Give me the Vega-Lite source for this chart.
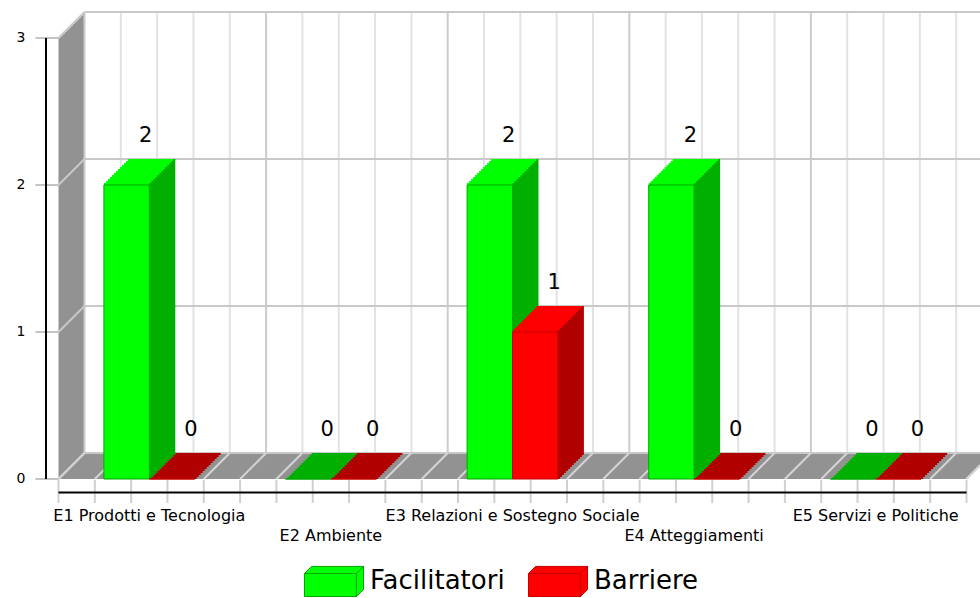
{
"$schema": "https://vega.github.io/schema/vega-lite/v6.json",
"width": 908, "height": 441,
"autosize": {"type": "none"},
"padding": {"left": 58.5, "top": 38, "right": 13.5, "bottom": 119},
"background": "white",
"config": {"view": {"stroke": null}, "font": "DejaVu Sans"},
"datasets": {
"bars": [
{"cat": "E1 Prodotti e Tecnologia", "s": "Facilitatori", "v": 2},
{"cat": "E1 Prodotti e Tecnologia", "s": "Barriere", "v": 0},
{"cat": "E2 Ambiente", "s": "Facilitatori", "v": 0},
{"cat": "E2 Ambiente", "s": "Barriere", "v": 0},
{"cat": "E3 Relazioni e Sostegno Sociale", "s": "Facilitatori", "v": 2},
{"cat": "E3 Relazioni e Sostegno Sociale", "s": "Barriere", "v": 1},
{"cat": "E4 Atteggiamenti", "s": "Facilitatori", "v": 2},
{"cat": "E4 Atteggiamenti", "s": "Barriere", "v": 0},
{"cat": "E5 Servizi e Politiche", "s": "Facilitatori", "v": 0},
{"cat": "E5 Servizi e Politiche", "s": "Barriere", "v": 0}
],
"xt": [{"t":0},{"t":1},{"t":2},{"t":3},{"t":4},{"t":5},{"t":6},{"t":7},{"t":8},{"t":9},{"t":10},{"t":11},{"t":12},{"t":13},{"t":14},{"t":15},{"t":16},{"t":17},{"t":18},{"t":19},{"t":20},{"t":21},{"t":22},{"t":23},{"t":24},{"t":25}],
"yt": [{"v":0},{"v":1},{"v":2},{"v":3}],
"one": [{"n":1}]
},
"resolve": {"scale": {"x": "independent"}},
"layer": [
{"layer": [
{"data":{"name":"one"},"mark":{"type":"rect","fill":"#929292","xOffset":0,"x2Offset":0,"yOffset":0,"y2Offset":0},"encoding":{"x":{"datum":0,"type":"quantitative","scale":{"domain":[0,25],"nice":false},"axis":null},"x2":{"datum":25},"y":{"datum":0,"type":"quantitative","scale":{"domain":[0,3],"nice":false},"axis":null},"y2":{"datum":3}}},
{"data":{"name":"one"},"mark":{"type":"rect","fill":"#929292","xOffset":2,"x2Offset":2,"yOffset":-2,"y2Offset":-2},"encoding":{"x":{"datum":0,"type":"quantitative","scale":{"domain":[0,25],"nice":false},"axis":null},"x2":{"datum":25},"y":{"datum":0,"type":"quantitative","scale":{"domain":[0,3],"nice":false},"axis":null},"y2":{"datum":3}}},
{"data":{"name":"one"},"mark":{"type":"rect","fill":"#929292","xOffset":4,"x2Offset":4,"yOffset":-4,"y2Offset":-4},"encoding":{"x":{"datum":0,"type":"quantitative","scale":{"domain":[0,25],"nice":false},"axis":null},"x2":{"datum":25},"y":{"datum":0,"type":"quantitative","scale":{"domain":[0,3],"nice":false},"axis":null},"y2":{"datum":3}}},
{"data":{"name":"one"},"mark":{"type":"rect","fill":"#929292","xOffset":6,"x2Offset":6,"yOffset":-6,"y2Offset":-6},"encoding":{"x":{"datum":0,"type":"quantitative","scale":{"domain":[0,25],"nice":false},"axis":null},"x2":{"datum":25},"y":{"datum":0,"type":"quantitative","scale":{"domain":[0,3],"nice":false},"axis":null},"y2":{"datum":3}}},
{"data":{"name":"one"},"mark":{"type":"rect","fill":"#929292","xOffset":8,"x2Offset":8,"yOffset":-8,"y2Offset":-8},"encoding":{"x":{"datum":0,"type":"quantitative","scale":{"domain":[0,25],"nice":false},"axis":null},"x2":{"datum":25},"y":{"datum":0,"type":"quantitative","scale":{"domain":[0,3],"nice":false},"axis":null},"y2":{"datum":3}}},
{"data":{"name":"one"},"mark":{"type":"rect","fill":"#929292","xOffset":10,"x2Offset":10,"yOffset":-10,"y2Offset":-10},"encoding":{"x":{"datum":0,"type":"quantitative","scale":{"domain":[0,25],"nice":false},"axis":null},"x2":{"datum":25},"y":{"datum":0,"type":"quantitative","scale":{"domain":[0,3],"nice":false},"axis":null},"y2":{"datum":3}}},
{"data":{"name":"one"},"mark":{"type":"rect","fill":"#929292","xOffset":12,"x2Offset":12,"yOffset":-12,"y2Offset":-12},"encoding":{"x":{"datum":0,"type":"quantitative","scale":{"domain":[0,25],"nice":false},"axis":null},"x2":{"datum":25},"y":{"datum":0,"type":"quantitative","scale":{"domain":[0,3],"nice":false},"axis":null},"y2":{"datum":3}}},
{"data":{"name":"one"},"mark":{"type":"rect","fill":"#929292","xOffset":14,"x2Offset":14,"yOffset":-14,"y2Offset":-14},"encoding":{"x":{"datum":0,"type":"quantitative","scale":{"domain":[0,25],"nice":false},"axis":null},"x2":{"datum":25},"y":{"datum":0,"type":"quantitative","scale":{"domain":[0,3],"nice":false},"axis":null},"y2":{"datum":3}}},
{"data":{"name":"one"},"mark":{"type":"rect","fill":"#929292","xOffset":16,"x2Offset":16,"yOffset":-16,"y2Offset":-16},"encoding":{"x":{"datum":0,"type":"quantitative","scale":{"domain":[0,25],"nice":false},"axis":null},"x2":{"datum":25},"y":{"datum":0,"type":"quantitative","scale":{"domain":[0,3],"nice":false},"axis":null},"y2":{"datum":3}}},
{"data":{"name":"one"},"mark":{"type":"rect","fill":"#929292","xOffset":18,"x2Offset":18,"yOffset":-18,"y2Offset":-18},"encoding":{"x":{"datum":0,"type":"quantitative","scale":{"domain":[0,25],"nice":false},"axis":null},"x2":{"datum":25},"y":{"datum":0,"type":"quantitative","scale":{"domain":[0,3],"nice":false},"axis":null},"y2":{"datum":3}}},
{"data":{"name":"one"},"mark":{"type":"rect","fill":"#929292","xOffset":20,"x2Offset":20,"yOffset":-20,"y2Offset":-20},"encoding":{"x":{"datum":0,"type":"quantitative","scale":{"domain":[0,25],"nice":false},"axis":null},"x2":{"datum":25},"y":{"datum":0,"type":"quantitative","scale":{"domain":[0,3],"nice":false},"axis":null},"y2":{"datum":3}}},
{"data":{"name":"one"},"mark":{"type":"rect","fill":"#929292","xOffset":22,"x2Offset":22,"yOffset":-22,"y2Offset":-22},"encoding":{"x":{"datum":0,"type":"quantitative","scale":{"domain":[0,25],"nice":false},"axis":null},"x2":{"datum":25},"y":{"datum":0,"type":"quantitative","scale":{"domain":[0,3],"nice":false},"axis":null},"y2":{"datum":3}}},
{"data":{"name":"one"},"mark":{"type":"rect","fill":"#929292","xOffset":24,"x2Offset":24,"yOffset":-24,"y2Offset":-24},"encoding":{"x":{"datum":0,"type":"quantitative","scale":{"domain":[0,25],"nice":false},"axis":null},"x2":{"datum":25},"y":{"datum":0,"type":"quantitative","scale":{"domain":[0,3],"nice":false},"axis":null},"y2":{"datum":3}}},
{"data":{"name":"one"},"mark":{"type":"rect","fill":"#929292","xOffset":26,"x2Offset":26,"yOffset":-26,"y2Offset":-26},"encoding":{"x":{"datum":0,"type":"quantitative","scale":{"domain":[0,25],"nice":false},"axis":null},"x2":{"datum":25},"y":{"datum":0,"type":"quantitative","scale":{"domain":[0,3],"nice":false},"axis":null},"y2":{"datum":3}}},
{"data":{"name":"one"},"mark":{"type":"rect","fill":"#ffffff","xOffset":26,"x2Offset":40,"yOffset":-26,"y2Offset":-26},"encoding":{"x":{"datum":0,"type":"quantitative","scale":{"domain":[0,25],"nice":false},"axis":null},"x2":{"datum":25},"y":{"datum":0,"type":"quantitative","scale":{"domain":[0,3],"nice":false},"axis":null},"y2":{"datum":3}}},
{"data":{"name":"xt"},"mark":{"type":"rule","strokeWidth":2,"xOffset":26,"yOffset":-26,"y2Offset":-26},"encoding":{"x":{"field":"t","type":"quantitative","scale":{"domain":[0,25],"nice":false},"axis":null},"y":{"datum":0,"type":"quantitative","scale":{"domain":[0,3],"nice":false},"axis":null},"y2":{"datum":3},"stroke":{"condition":{"test":"datum.t % 5 === 0","value":"#cccccc"},"value":"#e2e2e2"}}},
{"data":{"name":"yt"},"mark":{"type":"rule","stroke":"#c8c8c8","strokeWidth":2,"xOffset":26,"x2Offset":40,"yOffset":-26},"encoding":{"x":{"datum":0,"type":"quantitative","scale":{"domain":[0,25],"nice":false},"axis":null},"x2":{"datum":25},"y":{"field":"v","type":"quantitative","scale":{"domain":[0,3],"nice":false},"axis":null}}},
{"data":{"name":"yt"},"mark":{"type":"rule","stroke":"#c8c8c8","strokeWidth":2,"x2Offset":26,"y2Offset":-26},"encoding":{"x":{"datum":0,"type":"quantitative","scale":{"domain":[0,25],"nice":false},"axis":null},"x2":{"datum":0},"y":{"field":"v","type":"quantitative","scale":{"domain":[0,3],"nice":false},"axis":null},"y2":{"field":"v"}}},
{"data":{"name":"xt"},"mark":{"type":"rule","stroke":"#d4d4d4","strokeWidth":2,"x2Offset":26,"y2Offset":-26},"encoding":{"x":{"field":"t","type":"quantitative","scale":{"domain":[0,25],"nice":false},"axis":null},"x2":{"field":"t"},"y":{"datum":0,"type":"quantitative","scale":{"domain":[0,3],"nice":false},"axis":null},"y2":{"datum":0}}},
{"data":{"name":"xt"},"mark":{"type":"rule","stroke":"#d0d0d0","strokeWidth":2,"yOffset":1,"y2Offset":24},"encoding":{"x":{"field":"t","type":"quantitative","scale":{"domain":[0,25],"nice":false},"axis":null},"y":{"datum":0,"type":"quantitative","scale":{"domain":[0,3],"nice":false},"axis":null},"y2":{"datum":0}}},
{"data":{"name":"one"},"mark":{"type":"rule","stroke":"#000000","strokeWidth":2,"yOffset":13.5},"encoding":{"x":{"datum":0,"type":"quantitative","scale":{"domain":[0,25],"nice":false},"axis":null},"x2":{"datum":25},"y":{"datum":0,"type":"quantitative","scale":{"domain":[0,3],"nice":false},"axis":null}}},
{"data":{"name":"yt"},"mark":{"type":"rule","stroke":"#c4c4c4","strokeWidth":2,"xOffset":-23},"encoding":{"x":{"datum":0,"type":"quantitative","scale":{"domain":[0,25],"nice":false},"axis":null},"x2":{"datum":0},"y":{"field":"v","type":"quantitative","scale":{"domain":[0,3],"nice":false},"axis":null}}},
{"data":{"name":"one"},"mark":{"type":"rule","stroke":"#000000","strokeWidth":2,"xOffset":-12.5},"encoding":{"x":{"datum":0,"type":"quantitative","scale":{"domain":[0,25],"nice":false},"axis":null},"y":{"datum":0,"type":"quantitative","scale":{"domain":[0,3],"nice":false},"axis":null},"y2":{"datum":3}}},
{"data":{"name":"yt"},"mark":{"type":"text","dx":-33,"align":"right","baseline":"middle","fontSize":14,"font":"DejaVu Sans","color":"#000000"},"encoding":{"x":{"datum":0,"type":"quantitative","scale":{"domain":[0,25],"nice":false},"axis":null},"y":{"field":"v","type":"quantitative","scale":{"domain":[0,3],"nice":false},"axis":null},"text":{"field":"v","type":"quantitative"}}}
]},
{"data":{"name":"bars"},
"transform":[{"calculate":"datum.cat + '|' + datum.s","as":"k"}],
"encoding":{"x":{"field":"k","type":"nominal","scale":{"domain":["E1 Prodotti e Tecnologia|L","E1 Prodotti e Tecnologia|Facilitatori","E1 Prodotti e Tecnologia|Barriere","E1 Prodotti e Tecnologia|R","E2 Ambiente|L","E2 Ambiente|Facilitatori","E2 Ambiente|Barriere","E2 Ambiente|R","E3 Relazioni e Sostegno Sociale|L","E3 Relazioni e Sostegno Sociale|Facilitatori","E3 Relazioni e Sostegno Sociale|Barriere","E3 Relazioni e Sostegno Sociale|R","E4 Atteggiamenti|L","E4 Atteggiamenti|Facilitatori","E4 Atteggiamenti|Barriere","E4 Atteggiamenti|R","E5 Servizi e Politiche|L","E5 Servizi e Politiche|Facilitatori","E5 Servizi e Politiche|Barriere","E5 Servizi e Politiche|R"],"paddingInner":0,"paddingOuter":0},"axis":{"values":["E1 Prodotti e Tecnologia|Barriere","E2 Ambiente|Barriere","E3 Relazioni e Sostegno Sociale|Barriere","E4 Atteggiamenti|Barriere","E5 Servizi e Politiche|Barriere"],"labelOffset":-22.7,"title":null,"domain":false,"ticks":false,"tickSize":0,"grid":false,"labelPadding":28.5,"labelFontSize":16,"labelColor":"#000000","labelFont":"DejaVu Sans","labelOverlap":false,"labelLimit":0,"labelBaseline":"top","labelLineHeight":20,"labelAngle":0,"labelExpr":"(indexof(datum.label, 'E2') === 0 || indexof(datum.label, 'E4') === 0) ? ['', split(datum.label, '|')[0]] : split(datum.label, '|')[0]"}}},
"layer":[
{"mark":{"type":"bar","xOffset":26,"yOffset":-26,"y2Offset":-24},"encoding":{"y":{"field":"v","type":"quantitative","scale":{"domain":[0,3],"nice":false},"axis":null},"y2":{"datum":0},"fill":{"condition":{"test":"datum.s === 'Facilitatori'","value":"#00b000"},"value":"#b00000"}}},
{"mark":{"type":"bar","xOffset":24,"yOffset":-24,"y2Offset":-22},"encoding":{"y":{"field":"v","type":"quantitative","scale":{"domain":[0,3],"nice":false},"axis":null},"y2":{"datum":0},"fill":{"condition":{"test":"datum.s === 'Facilitatori'","value":"#00b000"},"value":"#b00000"}}},
{"mark":{"type":"bar","xOffset":22,"yOffset":-22,"y2Offset":-20},"encoding":{"y":{"field":"v","type":"quantitative","scale":{"domain":[0,3],"nice":false},"axis":null},"y2":{"datum":0},"fill":{"condition":{"test":"datum.s === 'Facilitatori'","value":"#00b000"},"value":"#b00000"}}},
{"mark":{"type":"bar","xOffset":20,"yOffset":-20,"y2Offset":-18},"encoding":{"y":{"field":"v","type":"quantitative","scale":{"domain":[0,3],"nice":false},"axis":null},"y2":{"datum":0},"fill":{"condition":{"test":"datum.s === 'Facilitatori'","value":"#00b000"},"value":"#b00000"}}},
{"mark":{"type":"bar","xOffset":18,"yOffset":-18,"y2Offset":-16},"encoding":{"y":{"field":"v","type":"quantitative","scale":{"domain":[0,3],"nice":false},"axis":null},"y2":{"datum":0},"fill":{"condition":{"test":"datum.s === 'Facilitatori'","value":"#00b000"},"value":"#b00000"}}},
{"mark":{"type":"bar","xOffset":16,"yOffset":-16,"y2Offset":-14},"encoding":{"y":{"field":"v","type":"quantitative","scale":{"domain":[0,3],"nice":false},"axis":null},"y2":{"datum":0},"fill":{"condition":{"test":"datum.s === 'Facilitatori'","value":"#00b000"},"value":"#b00000"}}},
{"mark":{"type":"bar","xOffset":14,"yOffset":-14,"y2Offset":-12},"encoding":{"y":{"field":"v","type":"quantitative","scale":{"domain":[0,3],"nice":false},"axis":null},"y2":{"datum":0},"fill":{"condition":{"test":"datum.s === 'Facilitatori'","value":"#00b000"},"value":"#b00000"}}},
{"mark":{"type":"bar","xOffset":12,"yOffset":-12,"y2Offset":-10},"encoding":{"y":{"field":"v","type":"quantitative","scale":{"domain":[0,3],"nice":false},"axis":null},"y2":{"datum":0},"fill":{"condition":{"test":"datum.s === 'Facilitatori'","value":"#00b000"},"value":"#b00000"}}},
{"mark":{"type":"bar","xOffset":10,"yOffset":-10,"y2Offset":-8},"encoding":{"y":{"field":"v","type":"quantitative","scale":{"domain":[0,3],"nice":false},"axis":null},"y2":{"datum":0},"fill":{"condition":{"test":"datum.s === 'Facilitatori'","value":"#00b000"},"value":"#b00000"}}},
{"mark":{"type":"bar","xOffset":8,"yOffset":-8,"y2Offset":-6},"encoding":{"y":{"field":"v","type":"quantitative","scale":{"domain":[0,3],"nice":false},"axis":null},"y2":{"datum":0},"fill":{"condition":{"test":"datum.s === 'Facilitatori'","value":"#00b000"},"value":"#b00000"}}},
{"mark":{"type":"bar","xOffset":6,"yOffset":-6,"y2Offset":-4},"encoding":{"y":{"field":"v","type":"quantitative","scale":{"domain":[0,3],"nice":false},"axis":null},"y2":{"datum":0},"fill":{"condition":{"test":"datum.s === 'Facilitatori'","value":"#00b000"},"value":"#b00000"}}},
{"mark":{"type":"bar","xOffset":4,"yOffset":-4,"y2Offset":-2},"encoding":{"y":{"field":"v","type":"quantitative","scale":{"domain":[0,3],"nice":false},"axis":null},"y2":{"datum":0},"fill":{"condition":{"test":"datum.s === 'Facilitatori'","value":"#00b000"},"value":"#b00000"}}},
{"mark":{"type":"bar","xOffset":2,"yOffset":-2,"y2Offset":0},"encoding":{"y":{"field":"v","type":"quantitative","scale":{"domain":[0,3],"nice":false},"axis":null},"y2":{"datum":0},"fill":{"condition":{"test":"datum.s === 'Facilitatori'","value":"#00b000"},"value":"#b00000"}}},
{"transform":[{"filter":"datum.v > 0"}],"mark":{"type":"bar","xOffset":24,"yOffset":-26,"y2Offset":-24},"encoding":{"y":{"field":"v","type":"quantitative","scale":{"domain":[0,3],"nice":false},"axis":null},"y2":{"field":"v"},"fill":{"condition":{"test":"datum.s === 'Facilitatori'","value":"#00ff00"},"value":"#ff0000"}}},
{"transform":[{"filter":"datum.v > 0"}],"mark":{"type":"bar","xOffset":22,"yOffset":-24,"y2Offset":-22},"encoding":{"y":{"field":"v","type":"quantitative","scale":{"domain":[0,3],"nice":false},"axis":null},"y2":{"field":"v"},"fill":{"condition":{"test":"datum.s === 'Facilitatori'","value":"#00ff00"},"value":"#ff0000"}}},
{"transform":[{"filter":"datum.v > 0"}],"mark":{"type":"bar","xOffset":20,"yOffset":-22,"y2Offset":-20},"encoding":{"y":{"field":"v","type":"quantitative","scale":{"domain":[0,3],"nice":false},"axis":null},"y2":{"field":"v"},"fill":{"condition":{"test":"datum.s === 'Facilitatori'","value":"#00ff00"},"value":"#ff0000"}}},
{"transform":[{"filter":"datum.v > 0"}],"mark":{"type":"bar","xOffset":18,"yOffset":-20,"y2Offset":-18},"encoding":{"y":{"field":"v","type":"quantitative","scale":{"domain":[0,3],"nice":false},"axis":null},"y2":{"field":"v"},"fill":{"condition":{"test":"datum.s === 'Facilitatori'","value":"#00ff00"},"value":"#ff0000"}}},
{"transform":[{"filter":"datum.v > 0"}],"mark":{"type":"bar","xOffset":16,"yOffset":-18,"y2Offset":-16},"encoding":{"y":{"field":"v","type":"quantitative","scale":{"domain":[0,3],"nice":false},"axis":null},"y2":{"field":"v"},"fill":{"condition":{"test":"datum.s === 'Facilitatori'","value":"#00ff00"},"value":"#ff0000"}}},
{"transform":[{"filter":"datum.v > 0"}],"mark":{"type":"bar","xOffset":14,"yOffset":-16,"y2Offset":-14},"encoding":{"y":{"field":"v","type":"quantitative","scale":{"domain":[0,3],"nice":false},"axis":null},"y2":{"field":"v"},"fill":{"condition":{"test":"datum.s === 'Facilitatori'","value":"#00ff00"},"value":"#ff0000"}}},
{"transform":[{"filter":"datum.v > 0"}],"mark":{"type":"bar","xOffset":12,"yOffset":-14,"y2Offset":-12},"encoding":{"y":{"field":"v","type":"quantitative","scale":{"domain":[0,3],"nice":false},"axis":null},"y2":{"field":"v"},"fill":{"condition":{"test":"datum.s === 'Facilitatori'","value":"#00ff00"},"value":"#ff0000"}}},
{"transform":[{"filter":"datum.v > 0"}],"mark":{"type":"bar","xOffset":10,"yOffset":-12,"y2Offset":-10},"encoding":{"y":{"field":"v","type":"quantitative","scale":{"domain":[0,3],"nice":false},"axis":null},"y2":{"field":"v"},"fill":{"condition":{"test":"datum.s === 'Facilitatori'","value":"#00ff00"},"value":"#ff0000"}}},
{"transform":[{"filter":"datum.v > 0"}],"mark":{"type":"bar","xOffset":8,"yOffset":-10,"y2Offset":-8},"encoding":{"y":{"field":"v","type":"quantitative","scale":{"domain":[0,3],"nice":false},"axis":null},"y2":{"field":"v"},"fill":{"condition":{"test":"datum.s === 'Facilitatori'","value":"#00ff00"},"value":"#ff0000"}}},
{"transform":[{"filter":"datum.v > 0"}],"mark":{"type":"bar","xOffset":6,"yOffset":-8,"y2Offset":-6},"encoding":{"y":{"field":"v","type":"quantitative","scale":{"domain":[0,3],"nice":false},"axis":null},"y2":{"field":"v"},"fill":{"condition":{"test":"datum.s === 'Facilitatori'","value":"#00ff00"},"value":"#ff0000"}}},
{"transform":[{"filter":"datum.v > 0"}],"mark":{"type":"bar","xOffset":4,"yOffset":-6,"y2Offset":-4},"encoding":{"y":{"field":"v","type":"quantitative","scale":{"domain":[0,3],"nice":false},"axis":null},"y2":{"field":"v"},"fill":{"condition":{"test":"datum.s === 'Facilitatori'","value":"#00ff00"},"value":"#ff0000"}}},
{"transform":[{"filter":"datum.v > 0"}],"mark":{"type":"bar","xOffset":2,"yOffset":-4,"y2Offset":-2},"encoding":{"y":{"field":"v","type":"quantitative","scale":{"domain":[0,3],"nice":false},"axis":null},"y2":{"field":"v"},"fill":{"condition":{"test":"datum.s === 'Facilitatori'","value":"#00ff00"},"value":"#ff0000"}}},
{"transform":[{"filter":"datum.v > 0"}],"mark":{"type":"bar","xOffset":0,"yOffset":-2,"y2Offset":0},"encoding":{"y":{"field":"v","type":"quantitative","scale":{"domain":[0,3],"nice":false},"axis":null},"y2":{"field":"v"},"fill":{"condition":{"test":"datum.s === 'Facilitatori'","value":"#00ff00"},"value":"#ff0000"}}},
{"mark":{"type":"bar","strokeWidth":1},"encoding":{"y":{"field":"v","type":"quantitative","scale":{"domain":[0,3],"nice":false},"axis":null},"y2":{"datum":0},
"fill":{"field":"s","type":"nominal","scale":{"domain":["Facilitatori","Barriere"],"range":["#00ff00","#ff0000"]},"legend":{"orient":"none","legendX":245.5,"legendY":513,"direction":"horizontal","title":null,"symbolType":"M-1,-0.27L0.76,-0.27L0.76,0.51L-1,0.51ZM-1,-0.27L-0.76,-0.51L1,-0.51L0.76,-0.27ZM0.76,-0.27L1,-0.51L1,0.27L0.76,0.51Z","symbolSize":3481,"symbolStrokeWidth":1,"labelFontSize":26,"labelFont":"DejaVu Sans","labelColor":"#000000","labelOffset":6,"columnPadding":21,"padding":0,"labelLimit":300}},
"stroke":{"field":"s","type":"nominal","scale":{"domain":["Facilitatori","Barriere"],"range":["#00a800","#c80000"]},"legend":{"orient":"none","legendX":245.5,"legendY":513,"direction":"horizontal","title":null,"symbolType":"M-1,-0.27L0.76,-0.27L0.76,0.51L-1,0.51ZM-1,-0.27L-0.76,-0.51L1,-0.51L0.76,-0.27ZM0.76,-0.27L1,-0.51L1,0.27L0.76,0.51Z","symbolSize":3481,"symbolStrokeWidth":1,"labelFontSize":26,"labelFont":"DejaVu Sans","labelColor":"#000000","labelOffset":6,"columnPadding":21,"padding":0,"labelLimit":300}}}},
{"mark":{"type":"text","dx":19,"dy":-43,"fontSize":21,"font":"DejaVu Sans","color":"#000000","baseline":"alphabetic","align":"center"},"encoding":{"y":{"field":"v","type":"quantitative","scale":{"domain":[0,3],"nice":false},"axis":null},"text":{"field":"v","type":"quantitative"}}}
]}
]
}
